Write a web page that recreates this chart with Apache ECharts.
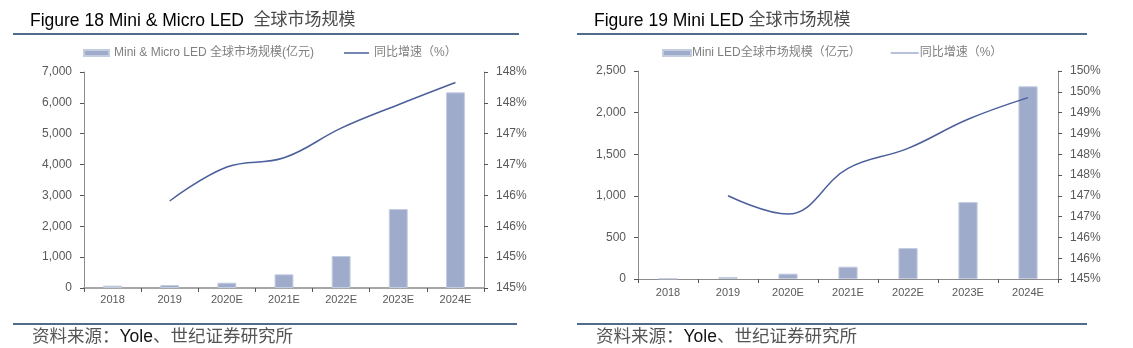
<!DOCTYPE html>
<html>
<head>
<meta charset="utf-8">
<script src="https://cdn.jsdelivr.net/npm/echarts@6/dist/echarts.min.js"></script>
<style>
  html, body { margin: 0; padding: 0; background: #fff; }
  #chart { width: 1133px; height: 348px; }
</style>
</head>
<body>
<div id="chart"></div>
<script>
// Categories shared by both panels
const years = ['2018', '2019', '2020E', '2021E', '2022E', '2023E', '2024E'];

// Figure 18: Mini & Micro LED market size (亿元) and YoY growth (%)
const miniMicroSize = [75, 97, 172, 443, 1037, 2560, 6340];
const miniMicroGrowth = [null, 146.41, 146.96, 147.11, 147.59, 147.97, 148.33];
const miniMicroPctLabels = ['145%', '145%', '146%', '146%', '147%', '147%', '148%', '148%'];

// Figure 19: Mini LED market size (亿元) and YoY growth (%)
const miniSize = [5, 25, 64, 148, 372, 924, 2316];
const miniGrowth = [null, 147.0, 146.56, 147.66, 148.14, 148.84, 149.36];
const miniPctLabels = ['145%', '146%', '146%', '147%', '147%', '148%', '148%', '149%', '149%', '150%', '150%'];

const FONT = '"Liberation Sans", Arial, "Noto Sans CJK SC", sans-serif';
const BAR = '#9eabca';
const LINE = '#4a5f9c';
const RULE = '#4f6c8c';
const AXIS = '#8c8c8c';
const LABEL = '#595959';

// Legend swatch for the growth line: a thin horizontal stroke centred in the icon box
const LINE_ICON = 'path://M0,0h10v0.01h-10z M0,2.2h10v1.6h-10z M0,6h10v0.01h-10z';

const chart = echarts.init(document.getElementById('chart'), null, { renderer: 'canvas' });

function thousands(v) { return v.toLocaleString('en-US'); }

function titleRich() {
  return {
    a: { fontFamily: FONT, fontSize: 17.5, fontWeight: 'normal', color: '#000' },
    b: { fontFamily: FONT, fontSize: 17, fontWeight: 'normal', color: '#4a4a4a' }
  };
}
function sourceRich() {
  return {
    a: { fontFamily: FONT, fontSize: 17.5, fontWeight: 'normal', color: '#555' },
    b: { fontFamily: FONT, fontSize: 17.5, fontWeight: 'normal', color: '#111' }
  };
}

const axisLabel = { fontFamily: FONT, fontSize: 12, color: LABEL };

chart.setOption({
  animation: false,
  title: [
    { left: 30, top: 12, padding: 0, text: '{a|Figure 18 Mini & Micro LED}{b|  全球市场规模}', textStyle: { fontWeight: 'normal', rich: titleRich() } },
    { left: 594, top: 12, padding: 0, text: '{a|Figure 19 Mini LED}{b| 全球市场规模}', textStyle: { fontWeight: 'normal', rich: titleRich() } },
    { left: 32, top: 328, padding: 0, text: '{a|资料来源：}{b|Yole}{a|、世纪证券研究所}', textStyle: { fontWeight: 'normal', rich: sourceRich() } },
    { left: 596, top: 328, padding: 0, text: '{a|资料来源：}{b|Yole}{a|、世纪证券研究所}', textStyle: { fontWeight: 'normal', rich: sourceRich() } }
  ],
  graphic: [
    { type: 'line', shape: { x1: 13, y1: 34, x2: 519, y2: 34 }, style: { stroke: RULE, lineWidth: 2 } },
    { type: 'line', shape: { x1: 577, y1: 34, x2: 1087, y2: 34 }, style: { stroke: RULE, lineWidth: 2 } },
    { type: 'line', shape: { x1: 13, y1: 324, x2: 517, y2: 324 }, style: { stroke: RULE, lineWidth: 2 } },
    { type: 'line', shape: { x1: 577, y1: 324, x2: 1087, y2: 324 }, style: { stroke: RULE, lineWidth: 2 } }
  ],
  legend: [
    {
      left: 83, top: 47, itemWidth: 25, itemHeight: 6, itemGap: 30, padding: 0, symbolKeepAspect: false,
      textStyle: { fontFamily: FONT, fontSize: 12, color: '#808080' },
      data: [
        { name: 'Mini & Micro LED 全球市场规模(亿元)', icon: 'rect', itemStyle: { color: BAR } },
        { name: '同比增速（%）', icon: LINE_ICON, itemStyle: { color: LINE } }
      ]
    },
    {
      left: 662, top: 47, itemWidth: 28, itemHeight: 6, itemGap: 30, padding: 0, symbolKeepAspect: false,
      textStyle: { fontFamily: FONT, fontSize: 12, color: '#808080', padding: [0, 0, 0, -4] },
      data: [
        { name: 'Mini LED全球市场规模（亿元）', icon: 'rect', itemStyle: { color: BAR } },
        { name: '同比增速（%）', icon: LINE_ICON, itemStyle: { color: '#9fadd0' } }
      ]
    }
  ],
  grid: [
    { left: 84, right: 649, top: 72, bottom: 60 },
    { left: 638, right: 75, top: 71, bottom: 69 }
  ],
  xAxis: [
    {
      gridIndex: 0, type: 'category', data: years,
      axisLine: { lineStyle: { color: '#a6a6a6', width: 2 } },
      axisTick: { show: true, length: 4, lineStyle: { color: '#555' } },
      axisLabel: Object.assign({}, axisLabel, { fontSize: 11, margin: 6 })
    },
    {
      gridIndex: 1, type: 'category', data: years,
      axisLine: { lineStyle: { color: AXIS, width: 1 } },
      axisTick: { show: true, length: 4, lineStyle: { color: '#555' } },
      axisLabel: Object.assign({}, axisLabel, { fontSize: 11, margin: 8 })
    }
  ],
  yAxis: [
    {
      gridIndex: 0, type: 'value', min: 0, max: 7000, interval: 1000, position: 'left',
      splitLine: { show: false },
      axisLine: { show: true, lineStyle: { color: AXIS } },
      axisTick: { show: true, length: 4, lineStyle: { color: '#555' } },
      axisLabel: Object.assign({}, axisLabel, { margin: 12, formatter: thousands })
    },
    {
      gridIndex: 0, type: 'value', min: 145, max: 148.5, interval: 0.5, position: 'right',
      splitLine: { show: false },
      axisLine: { show: true, lineStyle: { color: AXIS } },
      axisTick: { show: true, length: 4, lineStyle: { color: '#555' } },
      axisLabel: Object.assign({}, axisLabel, { margin: 12, formatter: (v, i) => miniMicroPctLabels[i] })
    },
    {
      gridIndex: 1, type: 'value', min: 0, max: 2500, interval: 500, position: 'left',
      splitLine: { show: false },
      axisLine: { show: true, lineStyle: { color: AXIS } },
      axisTick: { show: true, length: 4, lineStyle: { color: '#555' } },
      axisLabel: Object.assign({}, axisLabel, { margin: 12, formatter: thousands })
    },
    {
      gridIndex: 1, type: 'value', min: 145, max: 150, interval: 0.5, position: 'right',
      splitLine: { show: false },
      axisLine: { show: true, lineStyle: { color: AXIS } },
      axisTick: { show: true, length: 4, lineStyle: { color: '#555' } },
      axisLabel: Object.assign({}, axisLabel, { margin: 12, formatter: (v, i) => miniPctLabels[i] })
    }
  ],
  series: [
    {
      name: 'Mini & Micro LED 全球市场规模(亿元)', type: 'bar', xAxisIndex: 0, yAxisIndex: 0,
      data: miniMicroSize, barWidth: '33%',
      itemStyle: { color: BAR, borderColor: '#c4cce0', borderWidth: 1 }
    },
    {
      name: '同比增速（%）', type: 'line', xAxisIndex: 0, yAxisIndex: 1,
      data: miniMicroGrowth, smooth: 0.4, symbol: 'none', connectNulls: false,
      lineStyle: { color: LINE, width: 1.5 }, itemStyle: { color: LINE }
    },
    {
      name: 'Mini LED全球市场规模（亿元）', type: 'bar', xAxisIndex: 1, yAxisIndex: 2,
      data: miniSize, barWidth: '32%',
      itemStyle: { color: BAR, borderColor: '#c4cce0', borderWidth: 1 }
    },
    {
      name: '同比增速（%）', type: 'line', xAxisIndex: 1, yAxisIndex: 3,
      data: miniGrowth, smooth: 0.4, symbol: 'none', connectNulls: false,
      lineStyle: { color: LINE, width: 1.5 }, itemStyle: { color: LINE }
    }
  ]
});
</script>
</body>
</html>
